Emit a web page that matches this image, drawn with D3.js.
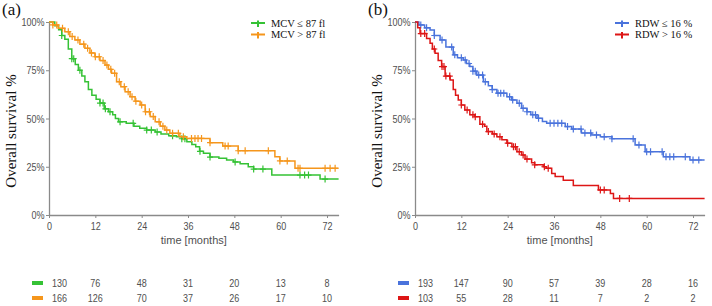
<!DOCTYPE html>
<html>
<head>
<meta charset="utf-8">
<script src="https://cdn.jsdelivr.net/npm/d3@7.9.0/dist/d3.min.js"></script>
<style>
  body { margin: 0; background: #fff; }
  svg { display: block; }
  .tick-label { font-family: "Liberation Sans", Arial, sans-serif; font-size: 11px; fill: #505050; }
  .serif { font-family: "Liberation Serif", "Times New Roman", serif; fill: #111; }
</style>
</head>
<body>
<div id="chart"></div>
<script>
// tick labels
const xTicks = [0, 12, 24, 36, 48, 60, 72];
const yTicks = [0, 25, 50, 75, 100];
const xMax = 75;

// panel (a) - MCV
const mcvLowSteps = [[0,100],[1.5,98],[2.5,96],[3.3,93],[4.1,91],[5,86],[5.9,81],[6.8,78],[7.6,75],[8.5,72],[9.3,69],[10.2,65],[11.1,62],[12.2,60],[13.2,58],[14.3,55],[15.4,53.5],[16.5,52],[17.2,50],[18,48.3],[20,47.5],[22,46],[23.5,45],[25.3,44],[27.5,43],[29,42],[31,41],[33,40.5],[34.4,39.5],[35.7,38],[37,36.5],[38,35.4],[39,33],[40,32],[41.7,30],[44,29.4],[46,28.5],[47.8,27.5],[49.5,26.5],[51.6,25],[53,23.8],[57.7,20.7],[70.2,18.6]];
const mcvLowCensor = [3.3,5.9,6.4,8,13.2,14,14.6,15.8,18.4,21.8,25.3,26.5,28,32,34.4,35.2,39.1,41.7,48.2,53,55.4,65,66.2,67.2,71.5];
const mcvHighSteps = [[0,100],[1,98.5],[2.4,96.7],[4.1,95],[5.4,92.5],[6.7,90.7],[8,88.5],[9.3,86.4],[10.6,84],[11.9,82],[13.2,80],[14.5,77.7],[15.4,75.5],[16.2,73.4],[17.5,69.1],[18.6,66.5],[19.7,63.9],[21,61.3],[22.3,59],[23.6,57],[24.9,53.5],[26.2,51],[27.5,48.3],[28.8,46],[30,44],[31.3,42.3],[33.9,40.6],[35.7,39.7],[41.7,37.5],[45,35.7],[49,33.3],[58.5,30.2],[59.8,28],[63.7,24.2]];
const mcvHighCensor = [1,2,3.5,5,6,7.5,9,10,11,12,13,14,15,16,17,18.2,19.5,20.5,21.5,22.5,24,25,26,27,28.5,29.5,30.5,32,33.5,34.8,36.9,37.8,38.6,39.5,41.7,45.6,46.4,49,50.8,56.8,59.8,61.7,64.5,65,71.5,72.8,74.1];
const mcvLowRisk = [130, 76, 48, 31, 20, 13, 8];
const mcvHighRisk = [166, 126, 70, 37, 26, 17, 10];

// panel (b) - RDW
const rdwLowSteps = [[0,100],[1,98.5],[2.5,97],[3.9,95.8],[5,93],[6.5,90.7],[8,87],[9.9,83],[11,81.5],[12.5,80.3],[13.3,78.5],[14.2,76.9],[15,74.5],[16,72.5],[17.7,69.1],[19,67],[20,65],[21.2,63.1],[23.8,61.3],[25,59.6],[26.4,57.9],[27.6,55.3],[29,53.5],[30,52],[31.6,50.1],[33,48.5],[34.1,47.5],[38.9,45.8],[40.6,44.5],[43.1,42.5],[45.8,41.5],[48,40.5],[51,39.5],[57,36.3],[59.6,32.8],[64.3,30.2],[71.2,28.5]];
const rdwLowCensor = [1.5,3,5,7,9.5,10.3,12,13,14,15,15.6,16.5,17.5,18.2,20,21.5,22.2,23,24.5,25.3,27,28,29,30.5,31.2,32,35,36,37,38,39.5,41,43,44,45.5,47,49,51,56.5,58,60,61,64,65,66,67,70,72,73.5];
const rdwHighSteps = [[0,100],[0.7,97],[1.3,94],[3,91.5],[3.9,89],[4.5,86],[5.2,83.8],[6,80],[6.9,76.9],[7.8,72],[9.1,70],[9.9,65],[10.5,62],[11.2,59.6],[12,57],[12.9,54.4],[14.2,52],[15.5,50.9],[16.8,47],[18,46],[18.6,43.2],[20,42],[21.2,40.6],[22.5,39],[23.8,37.2],[25.1,35.4],[26.4,32.8],[27.6,31.1],[28.5,29],[30.2,27.1],[31,26],[33.2,25],[34,24.2],[35.4,21.5],[36.3,20],[38.4,18],[41,15.3],[47.5,13],[50.6,11.2],[51.4,8.6]];
const rdwHighCensor = [1.5,2.5,5,7,7.5,8,9,12,13.5,15,15.6,17.5,19,20.5,22,24,25.5,26,27,28,29,31,33.5,34.5,48,49,53,55.5];
const rdwLowRisk = [193, 147, 90, 57, 39, 28, 16];
const rdwHighRisk = [103, 55, 28, 11, 7, 2, 2];

// the sans labels in the original are horizontally squeezed
const squeeze = 0.82;

const svg = d3.select("#chart").append("svg")
    .attr("width", 712)
    .attr("height", 306);

svg.append("rect").attr("width", 712).attr("height", 306).attr("fill", "#fff");

function survAt(steps, t) {
    let s = steps[0][1];
    for (const [st, sv] of steps) {
        if (st <= t) s = sv;
    }
    return s;
}

function drawPanel(cfg) {
    const x = d3.scaleLinear().domain([0, xMax]).range([cfg.left, cfg.left + 289.6]);
    const y = d3.scaleLinear().domain([0, 100]).range([215, 22]);
    const g = svg.append("g");

    // panel tag
    g.append("text").attr("class", "serif")
        .attr("x", cfg.left - 47).attr("y", 15)
        .attr("font-size", 17)
        .text(cfg.tag);

    // y title
    g.append("text").attr("class", "serif")
        .attr("transform", `translate(${cfg.left - 33},131) rotate(-90)`)
        .attr("text-anchor", "middle")
        .attr("font-size", 15)
        .text("Overall survival %");

    // axes
    const xAxis = g.append("g")
        .attr("transform", "translate(0,215)")
        .call(d3.axisBottom(x).tickValues(xTicks).tickSize(3).tickSizeOuter(0));
    const yAxis = g.append("g")
        .attr("transform", `translate(${cfg.left},0)`)
        .call(d3.axisLeft(y).tickValues(yTicks).tickSize(3).tickSizeOuter(0).tickFormat(d => d + "%"));
    [xAxis, yAxis].forEach(a => {
        a.select(".domain").attr("stroke", "#8a8a8a").attr("stroke-width", 1.3);
        a.selectAll(".tick line").attr("stroke", "#8a8a8a");
        a.selectAll(".tick text").attr("class", "tick-label").attr("fill", null).attr("font-size", null).attr("font-family", null)
            .attr("transform", `scale(${squeeze},1)`);
    });
    xAxis.selectAll(".tick text").attr("dy", "0.8em");
    yAxis.selectAll(".tick text").attr("x", -4.5 / squeeze);

    g.append("text").attr("class", "tick-label")
        .attr("x", x(37.5)).attr("y", 243.5)
        .attr("text-anchor", "middle")
        .attr("font-size", 13)
        .attr("fill", "#2a2a2a")
        .text("time [months]");

    const line = d3.line()
        .x(d => x(d[0]))
        .y(d => y(d[1]))
        .curve(d3.curveStepAfter);

    cfg.groups.forEach((grp, i) => {
        const pts = grp.steps.concat([[xMax, grp.steps[grp.steps.length - 1][1]]]);
        g.append("path")
            .attr("d", line(pts))
            .attr("fill", "none")
            .attr("stroke", grp.color)
            .attr("stroke-width", 1.5);

        g.selectAll(null)
            .data(grp.censor)
            .join("path")
            .attr("d", d => {
                const cx = x(d), cy = y(survAt(grp.steps, d));
                return `M${cx - 3},${cy}H${cx + 3}M${cx},${cy - 3.5}V${cy + 3.5}`;
            })
            .attr("stroke", grp.color)
            .attr("stroke-width", 1.2);

        // legend
        const ly = 23 + i * 11.5;
        const lx = cfg.legendX;
        g.append("path")
            .attr("d", `M${lx - 7},${ly}H${lx + 7}M${lx},${ly - 2.5}V${ly + 4}`)
            .attr("stroke", grp.color)
            .attr("stroke-width", 2);
        g.append("text").attr("class", "serif")
            .attr("x", lx + 13).attr("y", ly + 3.5)
            .attr("font-size", 10.5)
            .attr("fill", "#222")
            .text(grp.label);

        // risk table
        const ry = 283 + i * 15;
        g.append("rect")
            .attr("x", x(0) - 17).attr("y", ry - 2)
            .attr("width", 11).attr("height", 4)
            .attr("fill", grp.color);
        g.selectAll(null)
            .data(grp.risk)
            .join("text")
            .attr("class", "tick-label")
            .attr("transform", (d, j) => `translate(${j === 0 ? x(0) + 3 : x(xTicks[j])},${ry}) scale(${squeeze},1)`)
            .attr("dy", "0.35em")
            .attr("text-anchor", (d, j) => j === 0 ? "start" : "middle")
            .text(d => d);
    });
}

drawPanel({
    tag: "(a)", left: 49, legendX: 258,
    groups: [
        { label: "MCV ≤ 87 fl", color: "#35c235", steps: mcvLowSteps, censor: mcvLowCensor, risk: mcvLowRisk },
        { label: "MCV > 87 fl", color: "#f5961c", steps: mcvHighSteps, censor: mcvHighCensor, risk: mcvHighRisk }
    ]
});

drawPanel({
    tag: "(b)", left: 415, legendX: 622,
    groups: [
        { label: "RDW ≤ 16 %", color: "#4a73dc", steps: rdwLowSteps, censor: rdwLowCensor, risk: rdwLowRisk },
        { label: "RDW > 16 %", color: "#dd1616", steps: rdwHighSteps, censor: rdwHighCensor, risk: rdwHighRisk }
    ]
});
</script>
</body>
</html>
